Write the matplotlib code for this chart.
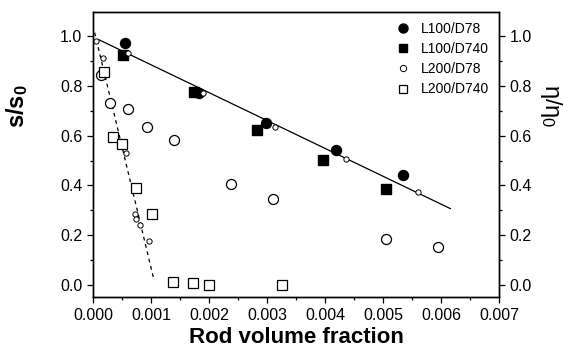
import matplotlib
matplotlib.use("Agg")
import matplotlib.pyplot as plt
from matplotlib.ticker import MultipleLocator, FormatStrFormatter
from matplotlib.lines import Line2D

plt.rcParams['font.family'] = ['Liberation Sans', 'DejaVu Sans']
plt.rcParams['mathtext.fontset'] = 'custom'
plt.rcParams['mathtext.rm'] = 'Liberation Sans'
plt.rcParams['mathtext.it'] = 'Liberation Sans'
plt.rcParams['mathtext.bf'] = 'Liberation Sans:bold'

# L100/D78 (s/s0)
l100_d78_x = [0.00055, 0.00182, 0.00299, 0.00419, 0.00535]
l100_d78_y = [0.970, 0.770, 0.652, 0.544, 0.443]
# L100/D740 (s/s0)
l100_d740_x = [0.00052, 0.00174, 0.00283, 0.00396, 0.00505]
l100_d740_y = [0.925, 0.775, 0.624, 0.503, 0.384]
# L200/D78 (s/s0, large open circles)
l200_d78_x = [0.00014, 0.00029, 0.00061, 0.00093, 0.00140, 0.00238, 0.00311, 0.00505, 0.00595]
l200_d78_y = [0.843, 0.732, 0.707, 0.636, 0.583, 0.405, 0.347, 0.187, 0.151]
# L200/D740 (s/s0, open squares)
l200_d740_x = [0.00019, 0.00035, 0.00051, 0.00075, 0.00101, 0.00138, 0.00173, 0.00200, 0.00326]
l200_d740_y = [0.857, 0.596, 0.568, 0.389, 0.287, 0.011, 0.007, 0.001, 0.000]
# viscosity ratio points (small open circles)
eta_l100_x = [0.00060, 0.00190, 0.00313, 0.00437, 0.00560]
eta_l100_y = [0.930, 0.769, 0.633, 0.507, 0.373]
eta_l200_x = [0.00005, 0.00018, 0.00057, 0.00073, 0.00075, 0.00082, 0.00097]
eta_l200_y = [0.981, 0.913, 0.532, 0.284, 0.267, 0.240, 0.177]
# linear fits
fit_l100_x = [0.00010, 0.00616]
fit_l100_y = [0.985, 0.307]
fit_l200_x = [0.00003, 0.00105]
fit_l200_y = [1.013, 0.023]

fig = plt.figure(figsize=(5.77, 3.52), dpi=100)
ax = fig.add_axes([0.161, 0.156, 0.704, 0.810])
ax2 = ax.twinx()

ax.plot(fit_l100_x, fit_l100_y, color='black', lw=0.9, zorder=1)
ax.plot(fit_l200_x, fit_l200_y, color='black', lw=0.9, ls=(0, (3, 3)), zorder=1)

ax2.plot(eta_l100_x, eta_l100_y, 'o', ms=3.8, mfc='white', mec='black', mew=0.7, zorder=2)
ax2.plot(eta_l200_x, eta_l200_y, 'o', ms=3.8, mfc='white', mec='black', mew=0.7, zorder=2)

ax.plot(l200_d78_x, l200_d78_y, 'o', ms=7.2, mfc='white', mec='black', mew=0.9, zorder=3)
ax.plot(l200_d740_x, l200_d740_y, 's', ms=7.2, mfc='white', mec='black', mew=0.9, zorder=3)
ax.plot(l100_d740_x, l100_d740_y, 's', ms=6.8, color='black', zorder=4)
ax.plot(l100_d78_x, l100_d78_y, 'o', ms=7.2, color='black', zorder=4)

for a in (ax, ax2):
    a.set_xlim(0, 0.007)
    a.set_ylim(-0.048, 1.096)
    a.yaxis.set_major_locator(MultipleLocator(0.2))
    a.yaxis.set_minor_locator(MultipleLocator(0.1))
    a.yaxis.set_major_formatter(FormatStrFormatter('%.1f'))
    a.tick_params(axis='both', which='major', direction='out', length=4, width=0.9, labelsize=11.5)
    a.tick_params(axis='both', which='minor', direction='out', length=2.5, width=0.9)
    for s in a.spines.values():
        s.set_linewidth(1.0)

ax.xaxis.set_major_locator(MultipleLocator(0.001))
ax.xaxis.set_minor_locator(MultipleLocator(0.0005))
ax.xaxis.set_major_formatter(FormatStrFormatter('%.3f'))
ax.tick_params(top=False, right=False, which='both')

ax.set_xlabel('Rod volume fraction', fontsize=16, fontweight='bold', labelpad=3)
ax.set_ylabel(r'$\mathbf{s/s_0}$', fontsize=17)
ax.yaxis.set_label_coords(-0.155, 0.67)
ax2.set_ylabel(r'$\eta/\eta_0$', fontsize=17, rotation=-90)
ax2.yaxis.set_label_coords(1.16, 0.67)

handles = [
    Line2D([], [], marker='o', ls='none', ms=6.5, color='black'),
    Line2D([], [], marker='s', ls='none', ms=6, color='black'),
    Line2D([], [], marker='o', ls='none', ms=4.5, mfc='white', mec='black', mew=0.7),
    Line2D([], [], marker='s', ls='none', ms=6, mfc='white', mec='black', mew=0.9),
]
ax.legend(handles, ['L100/D78', 'L100/D740', 'L200/D78', 'L200/D740'],
          loc='upper right', bbox_to_anchor=(1.0, 1.0), frameon=False,
          fontsize=10, handlelength=1.0, handletextpad=0.8, labelspacing=0.45,
          borderaxespad=0.3)

fig.savefig('out.png', dpi=100)
